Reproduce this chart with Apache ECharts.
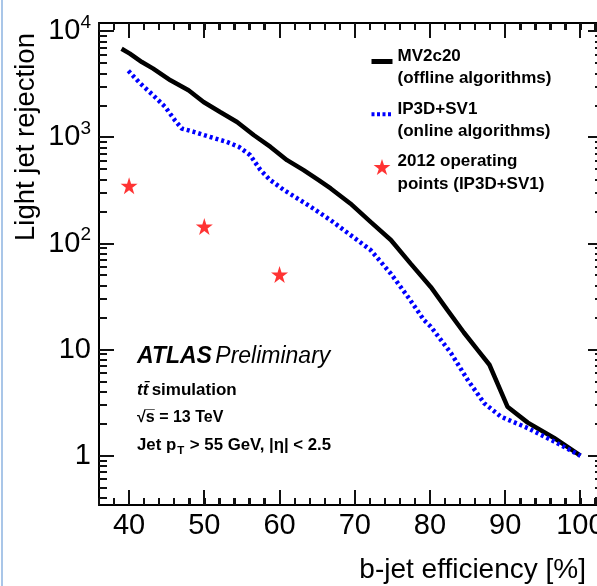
<!DOCTYPE html>
<html><head><meta charset="utf-8">
<script src="https://cdn.jsdelivr.net/npm/echarts@6/dist/echarts.min.js"></script>
<style>html,body{margin:0;padding:0;background:#fff}#c{width:597px;height:586px}</style>
</head><body><div id="c"></div>
<script>
// ---- data ----
const mvEff = [39.0, 40.1, 41.7, 43.2, 45.5, 47.9, 49.9, 52.1, 54.35, 56.6, 58.8, 61.0, 63.2, 65.2, 66.8, 69.4, 72.1, 74.8, 77.4, 80.1, 82.3, 84.5, 86.3, 87.9, 90.3, 93.0, 96.5, 100.0];
const mvRej = [6870, 6170, 5140, 4460, 3460, 2785, 2160, 1740, 1400, 1050, 815, 611, 492, 396, 331, 239, 160, 108, 65, 39, 23.7, 14.5, 10, 7.2, 2.9, 2.05, 1.47, 1.0];
const ipEff = [39.9, 41.5, 43.2, 44.8, 46.1, 47.0, 48.6, 50.8, 53.0, 54.6, 56.1, 57.45, 58.7, 60.6, 62.35, 64.1, 66.8, 69.45, 72.1, 74.8, 77.2, 79.2, 80.1, 82.8, 85.0, 87.2, 89.4, 93.0, 96.5, 100.0];
const ipRej = [4250, 3220, 2500, 1940, 1450, 1215, 1130, 1010, 908, 815, 681, 495, 400, 319, 267, 223, 166, 120, 87, 52, 30.5, 19, 16.5, 9.25, 5.2, 3.13, 2.34, 1.82, 1.36, 1.0];
const opEff = [40, 50, 60];
const opRej = [350, 145, 51];
const seriesNames = ['MV2c20\n(offline algorithms)', 'IP3D+SV1\n(online algorithms)', '2012 operating\npoints (IP3D+SV1)'];
const xMajorTicks = [40, 50, 60, 70, 80, 90, 100];
const xMinorTicks = [38, 42, 44, 46, 48, 52, 54, 56, 58, 62, 64, 66, 68, 72, 74, 76, 78, 82, 84, 86, 88, 92, 94, 96, 98, 102];
const yMajorTicks = [1, 10, 100, 1000, 10000];
const yMinorTicks = [0.4, 0.5, 0.6, 0.7, 0.8, 0.9, 2, 3, 4, 5, 6, 7, 8, 9, 20, 30, 40, 50, 60, 70, 80, 90, 200, 300, 400, 500, 600, 700, 800, 900, 2000, 3000, 4000, 5000, 6000, 7000, 8000, 9000];
const yLabelText = {1: '1', 10: '10', 100: '10{sup|2}', 1000: '10{sup|3}', 10000: '10{sup|4}'};

// ---- style ----
const F = '"Liberation Sans", Arial, Helvetica, sans-serif';
const X_MIN = 36, X_MAX = 103, Y_MIN = 0.343, Y_MAX = 12000;
const MAJOR_LEN = 15, MINOR_LEN = 7;
const STAR = 'path://M50,0 L61.2,34.5 L97.6,34.5 L68.2,55.9 L79.4,90.5 L50,69.1 L20.6,90.5 L31.8,55.9 L2.4,34.5 L38.8,34.5 Z';

function xAx(pos, withLabels) {
  return {
    type: 'value', position: pos, min: X_MIN, max: X_MAX, interval: 2,
    axisLine: {show: true, onZero: false, lineStyle: {color: '#000', width: 2}},
    splitLine: {show: false},
    axisTick: {show: true, inside: true, length: MINOR_LEN, lineStyle: {color: '#111', width: 2}},
    axisLabel: withLabels ? {show: true, customValues: xMajorTicks, margin: 6, fontSize: 29, fontFamily: F, color: '#000'} : {show: false}
  };
}
function yAx(pos, withLabels) {
  return {
    type: 'log', logBase: 10, position: pos, min: Y_MIN, max: Y_MAX,
    axisLine: {show: true, onZero: false, lineStyle: {color: '#000', width: 2}},
    splitLine: {show: false}, axisTick: {show: false},
    axisLabel: withLabels ? {
      show: true, customValues: yMajorTicks, margin: 8, fontFamily: F, color: '#000', fontSize: 29,
      formatter: v => yLabelText[Math.round(v)] || '',
      rich: {sup: {fontSize: 19, fontFamily: F, color: '#000', padding: [0, 0, 17, 0]}}
    } : {show: false}
  };
}

const legendLabel = name => {
  const parts = name.split('\n');
  return '{p| }\n{t|' + parts[0] + '}\n{t|' + parts[1] + '}';
};

const baseGraphic = [
  {id: 'stripe', type: 'rect', left: 1, top: 0, shape: {width: 2, height: 586}, style: {fill: '#a9c6e8'}, silent: true},
  {id: 'ytitle', type: 'text', x: 26, y: 137, rotation: Math.PI / 2,
   style: {text: 'Light jet rejection', fontSize: 27.5, fontFamily: F, fill: '#000', align: 'center', verticalAlign: 'middle'}},
  {id: 'xtitle', type: 'text', x: 586, y: 570,
   style: {text: 'b-jet efficiency [%]', fontSize: 28, fontFamily: F, fill: '#000', align: 'right', verticalAlign: 'middle'}},
  {id: 'atlas', type: 'text', x: 137, y: 357,
   style: {text: '{b|ATLAS} {i|Preliminary}', verticalAlign: 'middle',
     rich: {b: {fontSize: 23, fontFamily: F, fontStyle: 'italic', fontWeight: 'bold', fill: '#000'},
            i: {fontSize: 23, fontFamily: F, fontStyle: 'italic', fill: '#000'}}}},
  {id: 'tt', type: 'text', x: 137, y: 390,
   style: {text: '{bi|tt\u0304} {b|simulation}', verticalAlign: 'middle',
     rich: {bi: {fontSize: 17, fontFamily: F, fontStyle: 'italic', fontWeight: 'bold', fill: '#000'},
            b: {fontSize: 17, fontFamily: F, fontWeight: 'bold', fill: '#000'}}}},
  {id: 'sqrts', type: 'text', x: 137, y: 418,
   style: {text: '\u221As\u0305 = 13 TeV', verticalAlign: 'middle', fontSize: 16, fontFamily: F, fontWeight: 'bold', fill: '#000'}},
  {id: 'jet', type: 'text', x: 137, y: 445,
   style: {text: '{b|Jet p}{sub|T}{b| > 55 GeV, |\u03B7| < 2.5}', verticalAlign: 'middle',
     rich: {b: {fontSize: 16.8, fontFamily: F, fontWeight: 'bold', fill: '#000'},
            sub: {fontSize: 11.5, fontFamily: F, fontWeight: 'bold', fill: '#000', padding: [12, 1, 0, 1]}}}}
];

const chart = echarts.init(document.getElementById('c'), null, {renderer: 'canvas'});
chart.setOption({
  animation: false,
  backgroundColor: '#fff',
  grid: {left: 99, right: -6, top: 23, bottom: 81, containLabel: false, outerBoundsMode: 'none'},
  xAxis: [xAx('bottom', true), xAx('top', false)],
  yAxis: [yAx('left', true), yAx('right', false)],
  legend: {
    orient: 'vertical', left: 369, top: 38, padding: 0, itemWidth: 21, itemHeight: 16, itemGap: 3.5, itemTextGap: 5,
    selectedMode: false,
    formatter: legendLabel,
    data: [
      {name: seriesNames[0], itemStyle: {color: 'rgba(0,0,0,0)', borderWidth: 0}, lineStyle: {width: 5, color: '#000'}},
      {name: seriesNames[1], itemStyle: {color: 'rgba(0,0,0,0)', borderWidth: 0}, lineStyle: {width: 4, color: '#0000ff', type: [3, 2.5], cap: 'butt'}},
      {name: seriesNames[2]}
    ],
    textStyle: {
      fontFamily: F, fontWeight: 'bold', fontSize: 17, color: '#000',
      rich: {
        p: {fontSize: 2, lineHeight: 12},
        t: {fontFamily: F, fontWeight: 'bold', fontSize: 17, lineHeight: 22.5, color: '#000'}
      }
    }
  },
  series: [
    {
      name: seriesNames[0], type: 'line', xAxisIndex: 0, yAxisIndex: 0, symbol: 'none',
      data: mvEff.map((x, i) => [x, mvRej[i]]),
      lineStyle: {color: '#000', width: 4.5}, itemStyle: {color: '#000'}, z: 3
    },
    {
      name: seriesNames[1], type: 'line', xAxisIndex: 0, yAxisIndex: 0, symbol: 'none',
      data: ipEff.map((x, i) => [x, ipRej[i]]),
      lineStyle: {color: '#0000ff', width: 4.5, type: [3, 3], cap: 'butt'}, itemStyle: {color: '#0000ff'}, z: 4
    },
    {
      name: seriesNames[2], type: 'scatter', xAxisIndex: 0, yAxisIndex: 0, symbol: STAR, symbolSize: 17,
      data: opEff.map((x, i) => [x, opRej[i]]),
      itemStyle: {color: '#ff0000'}, z: 5
    }
  ],
  graphic: {elements: baseGraphic}
});

// Axis ticks on all four sides (thin rectangles), positioned through the chart's own scales.
const tickEls = [];
try {
  const px = v => chart.convertToPixel({xAxisIndex: 0}, v);
  const py = v => chart.convertToPixel({yAxisIndex: 0}, v);
  const W = 2;
  const addRect = (x, y, w, h) => tickEls.push({
    id: 'tick' + tickEls.length, type: 'rect', silent: true, z: 20,
    left: Math.round(x), top: Math.round(y), shape: {width: w, height: h}, style: {fill: '#111'}
  });
  const yB = py(Y_MIN), yT = py(Y_MAX), xL = px(X_MIN), xR = px(X_MAX);
  xMajorTicks.map(v => [v, MAJOR_LEN]).concat(xMinorTicks.map(v => [v, MINOR_LEN])).forEach(function (p) {
    const x = px(p[0]);
    addRect(x - W / 2, yB - p[1], W, p[1]);
    addRect(x - W / 2, yT, W, p[1]);
  });
  yMajorTicks.map(v => [v, MAJOR_LEN]).concat(yMinorTicks.map(v => [v, MINOR_LEN + 1])).forEach(function (p) {
    const y = py(p[0]);
    addRect(xL, y - W / 2, p[1], W);
    addRect(xR - p[1], y - W / 2, p[1], W);
  });
} catch (e) {
  tickEls.length = 0;
}
chart.setOption({graphic: {elements: baseGraphic.concat(tickEls)}});
</script></body></html>
